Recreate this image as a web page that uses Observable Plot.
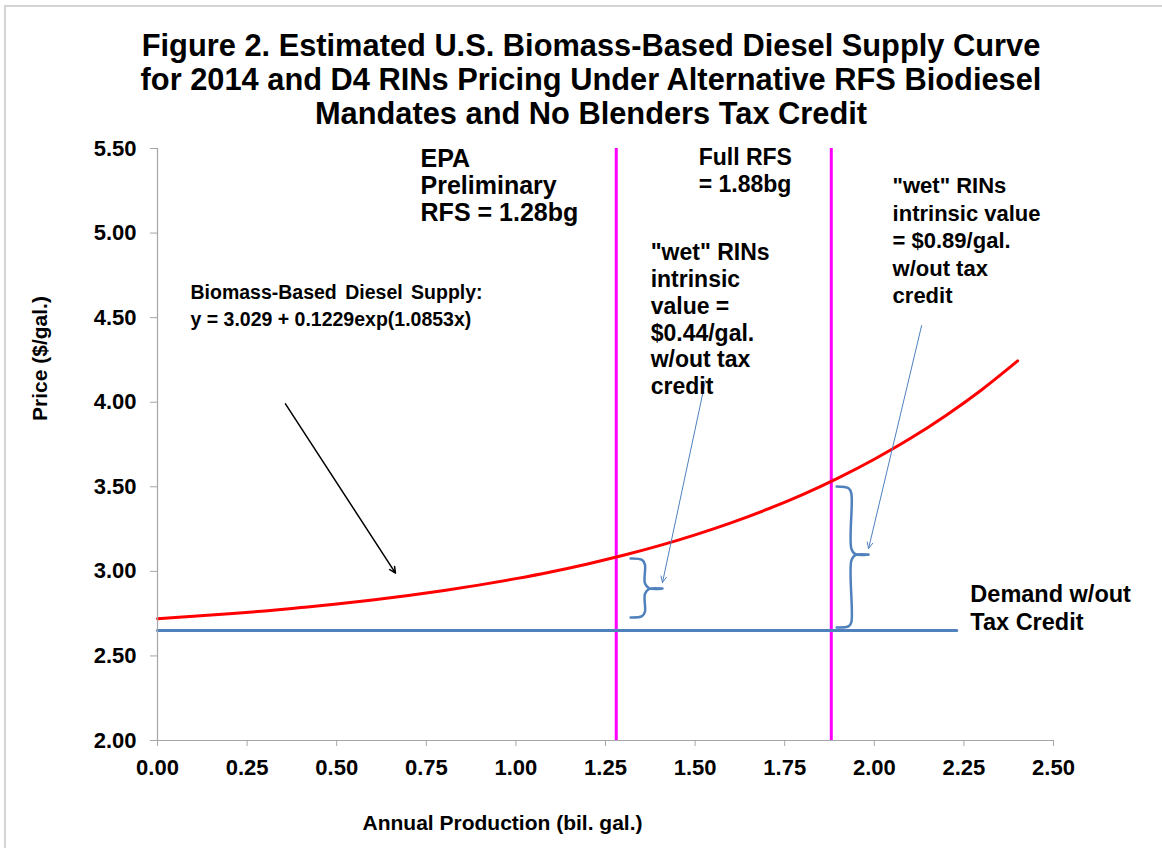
<!DOCTYPE html>
<html><head><meta charset="utf-8">
<script src="https://cdn.jsdelivr.net/npm/d3@7"></script>
<script src="https://cdn.jsdelivr.net/npm/@observablehq/plot@0.6"></script>
<style>
body{margin:0;background:#fff;font-family:"Liberation Sans",Arial,sans-serif;}
#wrap{position:relative;width:1162px;height:848px;overflow:hidden;background:#fff;}
#frame{position:absolute;left:4px;top:5px;width:1170px;height:860px;border-left:2px solid #d4d4d4;border-top:2px solid #d4d4d4;}
#title{position:absolute;left:0;top:29px;width:1182px;text-align:center;font-weight:bold;font-size:30.8px;line-height:34px;color:#000;}
#chart{position:absolute;left:0;top:0;}
</style></head>
<body>
<div id="wrap"><div id="frame"></div><div id="chart"></div>
<div id="title">Figure 2. Estimated U.S. Biomass-Based Diesel Supply Curve<br>for 2014 and D4 RINs Pricing Under Alternative RFS Biodiesel<br>Mandates and No Blenders Tax Credit</div>
</div>
<script>
// ---- data ----
const xTicks = [0, 0.25, 0.5, 0.75, 1.0, 1.25, 1.5, 1.75, 2.0, 2.25, 2.5];
const yTicks = [2.0, 2.5, 3.0, 3.5, 4.0, 4.5, 5.0, 5.5];
const supplyX = [0, 0.1, 0.2, 0.3, 0.4, 0.5, 0.6, 0.7, 0.8, 0.9, 1.0, 1.1, 1.2, 1.3, 1.4, 1.5, 1.6, 1.7, 1.8, 1.9, 2.0, 2.1, 2.2, 2.3, 2.4];
const supplyY = [2.720, 2.734, 2.749, 2.766, 2.786, 2.807, 2.831, 2.857, 2.887, 2.920, 2.957, 2.998, 3.044, 3.095, 3.152, 3.216, 3.287, 3.366, 3.454, 3.553, 3.663, 3.785, 3.922, 4.074, 4.244];
const demandX = [0, 2.23];
const demandY = [2.65, 2.65];
const mandates = [1.28, 1.88];
const noteText = [
  "EPA\nPreliminary\nRFS = 1.28bg",
  "Full RFS\n= 1.88bg",
  "\"wet\" RINs\nintrinsic\nvalue =\n$0.44/gal.\nw/out tax\ncredit",
  "\"wet\" RINs\nintrinsic value\n= $0.89/gal.\nw/out tax\ncredit",
  "Biomass-Based Diesel Supply:\ny = 3.029 + 0.1229exp(1.0853x)",
  "Demand w/out\nTax Credit"
];
const noteX = [0.734, 1.510, 1.376, 2.051, 0.092, 2.268];
const noteY = [5.503, 5.515, 4.955, 5.351, 4.73, 2.934];
const noteSize = [25, 23, 23, 22, 19.5, 23.5];
const noteLead = [1.08, 1.17, 1.17, 1.25, 1.43, 1.19];
const arrowX1 = [0.357, 1.529, 2.132];
const arrowY1 = [3.99, 4.128, 4.453];
const arrowX2 = [0.664, 1.409, 1.984];
const arrowY2 = [2.99, 2.934, 3.135];
const arrowColor = ["#000000", "#4f81bd", "#4f81bd"];
const braceSmallX = [1.320, 1.352, 1.360, 1.360, 1.372, 1.409, 1.372, 1.360, 1.360, 1.352, 1.320];
const braceSmallY = [3.076, 3.068, 3.040, 2.930, 2.900, 2.898, 2.896, 2.866, 2.760, 2.735, 2.727];
const braceLargeX = [1.895, 1.929, 1.936, 1.936, 1.947, 1.984, 1.947, 1.936, 1.936, 1.929, 1.895];
const braceLargeY = [3.501, 3.490, 3.460, 3.135, 3.102, 3.099, 3.096, 3.063, 2.700, 2.676, 2.668];
const xLabel = "Annual Production (bil. gal.)";
const yLabel = "Price ($/gal.)";

// ---- tables ----
const supply = supplyX.map((x, i) => ({x, y: supplyY[i]}));
const demand = demandX.map((x, i) => ({x, y: demandY[i]}));
const braces = [
  ...braceSmallX.map((x, i) => ({x, y: braceSmallY[i], b: "s"})),
  ...braceLargeX.map((x, i) => ({x, y: braceLargeY[i], b: "l"}))
];
const arrows = arrowX1.map((x1, i) => ({x1, y1: arrowY1[i], x2: arrowX2[i], y2: arrowY2[i], c: arrowColor[i]}));

const FONT = '"Liberation Sans", Arial, sans-serif';
const AXIS = "#a6a6a6";
const BLUE = "#4f81bd";

const noteMarks = noteText.map((t, i) =>
  Plot.text([{t, x: noteX[i], y: noteY[i]}], {x: "x", y: "y", text: "t", textAnchor: "start", lineAnchor: "top",
    lineHeight: noteLead[i], fontSize: noteSize[i], fontWeight: "bold", fill: "black"}));

const chart = Plot.plot({
  width: 1162, height: 848,
  marginLeft: 157, marginRight: 109, marginTop: 148, marginBottom: 108,
  x: {domain: [0, 2.5]},
  y: {domain: [2, 5.5]},
  style: {fontFamily: FONT, background: "transparent", color: "black", overflow: "visible"},
  marks: [
    Plot.ruleX(mandates, {stroke: "#ff00ff", strokeWidth: 3, y1: 2, y2: 5.5}),
    Plot.line(demand, {x: "x", y: "y", stroke: BLUE, strokeWidth: 3}),
    Plot.line(supply, {x: "x", y: "y", stroke: "#ff0000", strokeWidth: 3, curve: "catmull-rom"}),
    Plot.line(braces, {x: "x", y: "y", z: "b", stroke: BLUE, strokeWidth: 2.5, curve: "catmull-rom"}),
    Plot.arrow(arrows, {x1: "x1", y1: "y1", x2: "x2", y2: "y2", stroke: "c", strokeWidth: (d, i) => i === 0 ? 1.5 : 1, headLength: 10, headAngle: 50}),
    ...noteMarks,
    Plot.ruleX([0], {stroke: AXIS, strokeWidth: 1.2}),
    Plot.ruleY([2], {stroke: AXIS, strokeWidth: 1.2}),
    Plot.axisX({ticks: xTicks, tickFormat: d => d.toFixed(2), tickSize: 6, tickPadding: 13, fontSize: 22, fontWeight: "bold", stroke: AXIS, fill: "black", label: null}),
    Plot.axisY({ticks: yTicks, tickFormat: d => d.toFixed(2), tickSize: 7, tickPadding: 14, fontSize: 22, fontWeight: "bold", stroke: AXIS, fill: "black", label: null}),
    Plot.text([xLabel], {text: d => d, frameAnchor: "bottom", dx: -103, dy: 83, lineAnchor: "middle", textAnchor: "middle", fontSize: 21, fontWeight: "bold", fill: "black"}),
    Plot.text([yLabel], {text: d => d, frameAnchor: "left", rotate: -90, dx: -117, dy: -86, lineAnchor: "middle", textAnchor: "middle", fontSize: 21, fontWeight: "bold", fill: "black"})
  ]
});
// slightly wider word spacing on the supply label's first line, as in the original text box
d3.select(chart).selectAll("tspan").filter(function () { return this.textContent === "Biomass-Based Diesel Supply:"; })
  .style("word-spacing", "3px");
document.getElementById("chart").appendChild(chart);
</script>
</body></html>
